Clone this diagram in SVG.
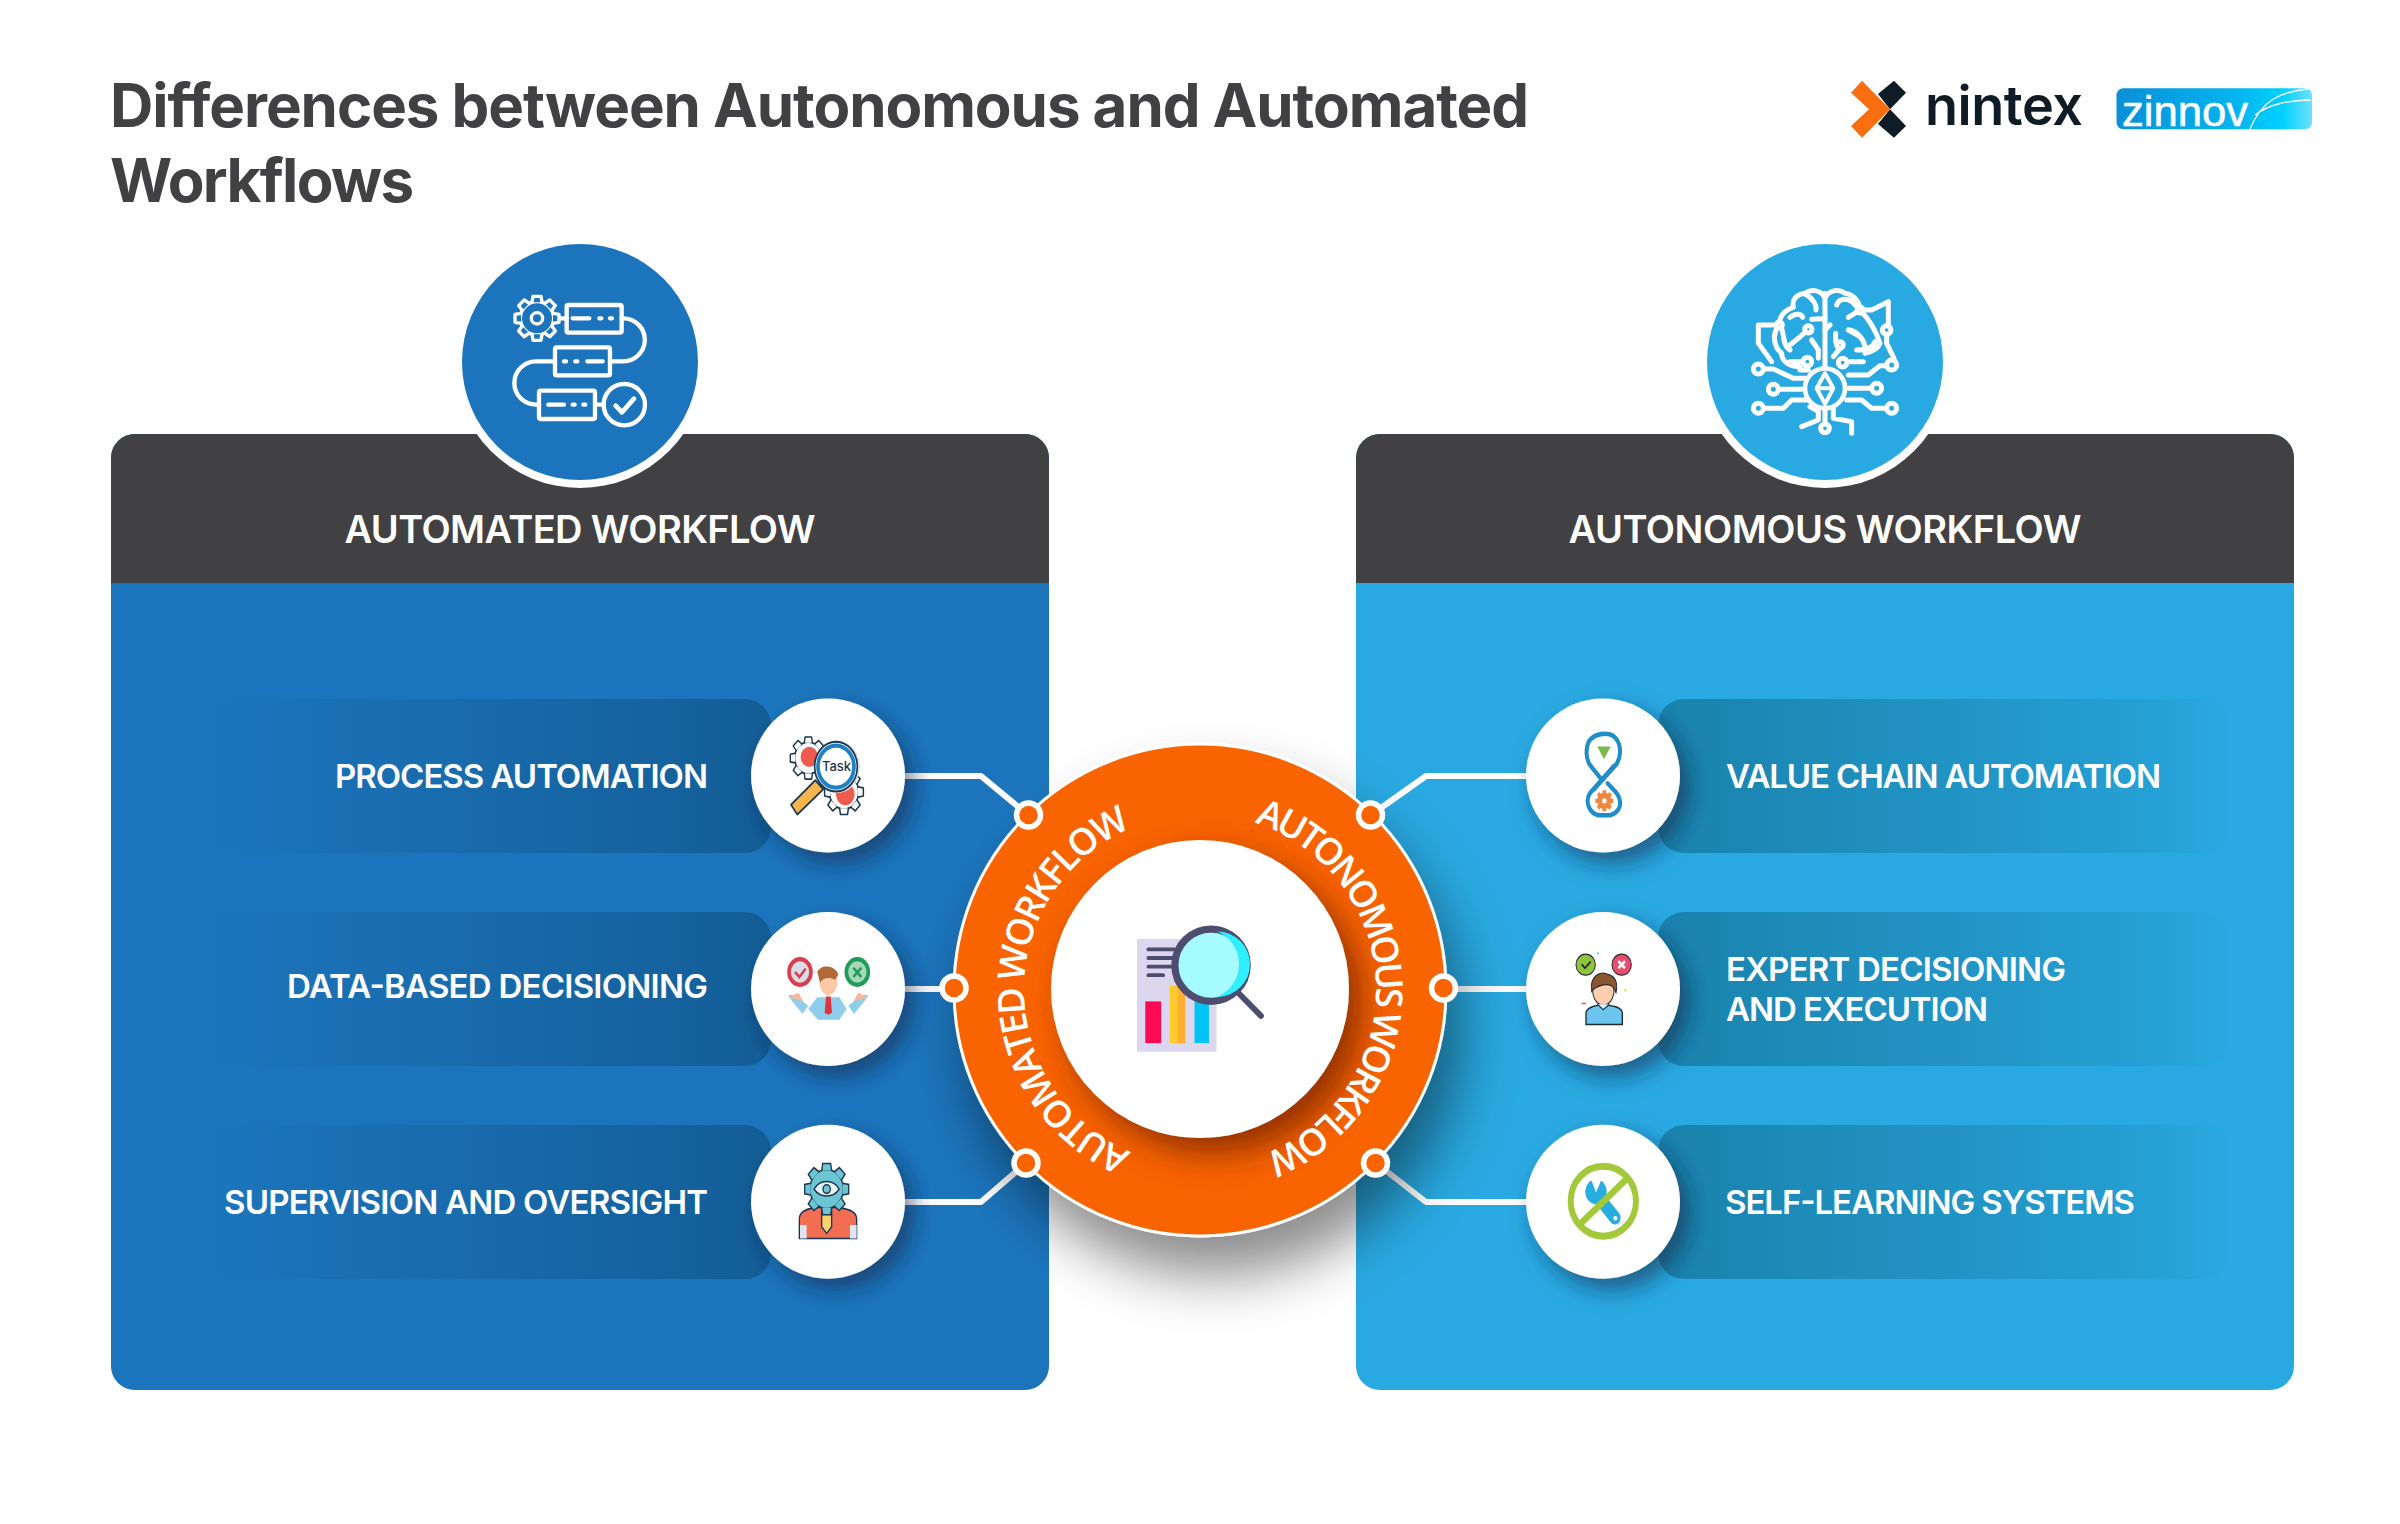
<svg xmlns="http://www.w3.org/2000/svg" width="2400" height="1524" viewBox="0 0 2400 1524">
<style>
text{font-family:"Inter","Liberation Sans",sans-serif;font-weight:600}
.hd{font-size:38px;fill:#fff;text-anchor:middle}
.it{font-size:33px;fill:#fff}
.ttl{font-size:60px;font-weight:700;fill:#414042}
.arc{font-family:"Open Sans","Liberation Sans",sans-serif;font-size:37px;font-weight:600;fill:#fff}
.ln{fill:none;stroke:#fff;stroke-width:6;stroke-linejoin:round}
.dot{fill:#f96400;stroke:#fff;stroke-width:5.5}
.ic{fill:none;stroke:#fff;stroke-linecap:round;stroke-linejoin:round}
.d{stroke:#1c3550;stroke-width:5;stroke-linejoin:round;stroke-linecap:round}
</style>
<defs>
<linearGradient id="barL" x1="0" x2="1" y1="0" y2="0"><stop offset="0" stop-color="#135d96" stop-opacity="0"/><stop offset=".14" stop-color="#135d96" stop-opacity=".12"/><stop offset=".5" stop-color="#135d96" stop-opacity=".45"/><stop offset="1" stop-color="#135d96"/></linearGradient>
<linearGradient id="barR" x1="0" x2="1" y1="0" y2="0"><stop offset="0" stop-color="#1a82ac"/><stop offset=".85" stop-color="#1a82ac" stop-opacity=".25"/><stop offset="1" stop-color="#1a82ac" stop-opacity="0"/></linearGradient>
<linearGradient id="zin" x1="0" x2="1" y1="0" y2="0"><stop offset="0" stop-color="#0a8fd8"/><stop offset=".6" stop-color="#04b4ee"/><stop offset=".85" stop-color="#00d0ff"/><stop offset="1" stop-color="#6fe0fb"/></linearGradient>
<filter id="sh" x="-40%" y="-40%" width="190%" height="190%"><feDropShadow dx="9" dy="11" stdDeviation="11" flood-color="#08233c" flood-opacity=".55"/></filter>
<filter id="shBig" x="-30%" y="-30%" width="170%" height="170%"><feDropShadow dx="14" dy="38" stdDeviation="28" flood-color="#000" flood-opacity=".45"/></filter>
<filter id="shIn" x="-30%" y="-30%" width="170%" height="170%"><feDropShadow dx="14" dy="16" stdDeviation="16" flood-color="#7a2600" flood-opacity=".8"/></filter>
<path id="arcL" d="M1131.2,1152 A176,176 0 0 1 1169.4,816.7"/>
<path id="arcR" d="M1254.4,822.6 A176,176 0 0 1 1215.3,1165.3"/>
<clipPath id="clipL"><rect x="111" y="434" width="938" height="956" rx="24"/></clipPath>
<clipPath id="clipR"><rect x="1356" y="434" width="938" height="956" rx="24"/></clipPath>
<path id="t" d="M-15,-48 L-12,-66 H12 L15,-48"/>
<g id="gear"><circle r="50"/><use href="#t"/><use href="#t" transform="rotate(45)"/><use href="#t" transform="rotate(90)"/><use href="#t" transform="rotate(135)"/><use href="#t" transform="rotate(180)"/><use href="#t" transform="rotate(225)"/><use href="#t" transform="rotate(270)"/><use href="#t" transform="rotate(315)"/></g>
</defs>
<rect width="2400" height="1524" fill="#fff"/>
<g id="title"><text class="ttl" x="110" y="127" textLength="1419">Differences between Autonomous and Automated</text><text class="ttl" x="110" y="202" textLength="304">Workflows</text></g>
<g id="logo-nintex">
<polygon points="1878,94 1894,80.700 1906,92.700 1890,109.300 1906,126 1894,137.700 1878,124 1890,109.300" fill="#0f1c26"/>
<polygon points="1851,92.700 1862,80.700 1890,109.300 1862,137.700 1851,126 1869,109.300" fill="#f96e10"/>
<text x="1925" y="125" font-size="54" textLength="158" style="fill:#0f1c26;font-weight:600">nintex</text>
</g>
<g id="logo-zinnov">
<rect x="2116.500" y="88.300" width="195.500" height="41" rx="7" fill="url(#zin)"/>
<text x="2122" y="126" font-size="43" textLength="126" lengthAdjust="spacingAndGlyphs" stroke="#fff" stroke-width=".6" style="font-family:'Liberation Sans',sans-serif;font-weight:400;fill:#fff">zinnov</text>
<path d="M2250,129 C2262,100 2280,92 2308,89 M2255,115 C2270,104 2285,101 2311,100" fill="none" stroke="#fff" stroke-width="1.300"/>
</g>
<g id="panel-automated">
<g clip-path="url(#clipL)"><rect x="111" y="434" width="938" height="956" fill="#1c75bc"/><rect x="111" y="434" width="938" height="149" fill="#414042"/></g>
<rect x="190" y="699" width="581" height="154" rx="26" fill="url(#barL)"/>
<rect x="190" y="912" width="581" height="154" rx="26" fill="url(#barL)"/>
<rect x="190" y="1125" width="581" height="154" rx="26" fill="url(#barL)"/>
<text class="hd" x="580" y="543" textLength="471">AUTOMATED WORKFLOW</text>
</g>
<g id="panel-autonomous">
<g clip-path="url(#clipR)"><rect x="1356" y="434" width="938" height="956" fill="#29a9e1"/><rect x="1356" y="434" width="938" height="149" fill="#414042"/></g>
<rect x="1658" y="699" width="572" height="154" rx="26" fill="url(#barR)"/>
<rect x="1658" y="912" width="572" height="154" rx="26" fill="url(#barR)"/>
<rect x="1658" y="1125" width="572" height="154" rx="26" fill="url(#barR)"/>
<text class="hd" x="1825" y="543" textLength="513">AUTONOMOUS WORKFLOW</text>
</g>
<g id="badge-automated">
<circle cx="580" cy="362" r="126" fill="#fff"/><circle cx="580" cy="362" r="118" fill="#1c75bc"/>
<g transform="translate(440,230) scale(.3333)" class="ic" stroke-width="13">
<rect x="380" y="225" width="165" height="83" rx="5"/><rect x="345" y="352" width="165" height="84" rx="5"/><rect x="297" y="482" width="168" height="85" rx="5"/>
<path d="M398,265 H448 M478,265 H484 M510,265 H516 M372,394 H378 M406,394 H412 M442,394 H488 M325,524 H372 M398,524 H404 M430,524 H436"/>
<path d="M545,265 H550 A64.500,64.500 0 0 1 550,394 H510 M345,394 H288 A65,65 0 0 0 288,524 H297 M360,265 H380 M465,524 H491"/>
<circle cx="553" cy="524" r="62"/><path d="M527,527 L546,547 L582,506" stroke-width="14"/>
<use href="#gear" transform="translate(291,265)" fill="#1c75bc" stroke-width="10"/>
<circle cx="291" cy="265" r="17" stroke-width="10"/>
</g>
</g>
<g id="badge-autonomous">
<circle cx="1825" cy="362" r="126" fill="#fff"/><circle cx="1825" cy="362" r="118" fill="#29a9e1"/>
<g transform="translate(1690,230) scale(.3333)" class="ic" stroke-width="15">
<path d="M405,190 V410 M405,205 C395,180 365,175 345,190 C320,193 305,208 310,232 C285,240 268,255 268,285 C245,310 250,350 275,370 C275,395 300,410 330,410 M405,205 C415,180 445,175 465,190 C490,193 510,215 510,240 C540,270 560,310 570,340 C565,355 550,365 525,370"/>
<path d="M345,192 C370,205 380,225 378,240 M300,262 C320,245 335,255 338,262 M365,268 C385,265 395,265 405,268 M355,298 L325,325 L300,345 M272,290 C285,310 275,345 300,360 M420,285 L405,300 M365,330 L385,360 V385 M300,395 H335 M330,420 H355"/>
<path d="M440,225 C450,200 480,205 495,225 M480,300 C500,305 520,325 525,350 M437,310 V335 M450,355 L430,380 M480,395 H520 M475,262 L510,240 H545 L595,215 V285 M590,312 V340 L612,385 M475,300 L510,320 M500,360 C530,360 550,350 555,335"/>
<path d="M268,285 H205 V340 L245,395"/>
<circle cx="405" cy="475" r="60" fill="#29a9e1" stroke-width="14"/>
<path d="M405,430 L430,475 L405,522 L380,475Z M385,475 H425" stroke-width="12"/>
<path d="M220,417 H250 L310,445 H345 M265,478 H335 M220,535 H280 L305,510 H350 M545,475 H475 M590,535 H545 L515,510 H470 M590,407 H570 L535,435 H475 M360,530 L385,545 V570 L335,590 M405,580 V535 M430,535 V565 L485,575 V610"/>
<g fill="#29a9e1"><circle cx="205" cy="417" r="15"/><circle cx="250" cy="478" r="15"/><circle cx="205" cy="535" r="15"/><circle cx="560" cy="475" r="15"/><circle cx="605" cy="535" r="15"/><circle cx="605" cy="405" r="15"/><circle cx="590" cy="300" r="13"/><circle cx="405" cy="595" r="13"/><circle cx="355" cy="298" r="11"/><circle cx="268" cy="285" r="9"/><circle cx="510" cy="240" r="9"/><circle cx="450" cy="345" r="10"/><circle cx="352" cy="395" r="13"/><circle cx="458" cy="398" r="13"/></g>
</g>
</g>
<g id="connectors">
<path class="ln" d="M905,776 H981 L1028,815"/><path class="ln" d="M905,989 H954"/><path class="ln" d="M905,1202 H981 L1026,1163"/>
<path class="ln" d="M1526,776 H1426 L1371,815"/><path class="ln" d="M1526,989 H1444"/><path class="ln" d="M1526,1202 H1426 L1376,1163"/>
</g>
<g id="hub">
<circle cx="1200" cy="990" r="246" fill="#f96400" stroke="#fff" stroke-width="3" filter="url(#shBig)"/>
<circle cx="1200" cy="989" r="149" fill="#fff" filter="url(#shIn)"/>
<text class="arc" letter-spacing="-2.500"><textPath href="#arcL">AUTOMATED WORKFLOW</textPath></text>
<text class="arc" letter-spacing="-3.600"><textPath href="#arcR">AUTONOMOUS WORKFLOW</textPath></text>
<g transform="translate(940,730) scale(.3444)">
<rect x="572" y="607" width="231" height="327" fill="#dcd6ef"/>
<path d="M605,637 H680 M605,662 H680 M605,687 H680 M605,712 H648" stroke="#4d4d6f" stroke-width="11" stroke-linecap="round"/>
<rect x="596" y="788" width="46" height="121" fill="#ff0a54"/>
<rect x="667" y="742" width="45" height="167" fill="#ffcb2e"/><rect x="690" y="742" width="22" height="167" fill="#ffb02e"/>
<rect x="739" y="790" width="42" height="119" fill="#00c4f5"/>
<path d="M868,765 L932,830" stroke="#4d4d6f" stroke-width="17" stroke-linecap="round"/>
<circle cx="787" cy="683" r="105" fill="#a5fbff" stroke="#4d4d6f" stroke-width="21"/>
<path d="M800,585 A95,95 0 0 1 800,775 A103,103 0 0 0 800,585Z" fill="#2eeeff" transform="translate(5,0)"/>
</g>
<circle class="dot" cx="1028.500" cy="815" r="12"/><circle class="dot" cx="954" cy="988" r="12"/><circle class="dot" cx="1026" cy="1163" r="12"/>
<circle class="dot" cx="1370.500" cy="815" r="12"/><circle class="dot" cx="1443.500" cy="988" r="12"/><circle class="dot" cx="1375.500" cy="1163" r="12"/>
</g>
<g id="item-process">
<circle cx="828" cy="775.500" r="77" fill="#fff" filter="url(#sh)"/>
<g transform="translate(740,690) scale(.3333,.389)">
<g class="d" fill="#fff"><use href="#gear" transform="translate(205,175) scale(.82)"/><circle cx="208" cy="172" r="26" fill="#ef5b4c" stroke="none"/>
<use href="#gear" transform="translate(312,262) scale(.88)"/><circle cx="316" cy="268" r="28" fill="#ef5b4c" stroke="none"/>
<path d="M226,232 L153,295 L172,320 L250,255 Z" fill="#f9b54c"/></g>
<circle cx="292" cy="197" r="68" fill="#dfe5ec"/><circle cx="288" cy="197" r="64" fill="#fff" stroke="#1c3550" stroke-width="5"/><circle cx="288" cy="197" r="54" fill="#fff" stroke="#1c82c4" stroke-width="11"/>
</g>
<text x="836.500" y="771" text-anchor="middle" font-size="13" style="font-weight:500;fill:#1c3550">Task</text>
<text class="it" x="708" y="788" text-anchor="end" textLength="373">PROCESS AUTOMATION</text>
</g>
<g id="item-data">
<circle cx="828" cy="989" r="77" fill="#fff" filter="url(#sh)"/>
<g transform="translate(740,690) scale(.3333,.389)">
<circle cx="180" cy="725" r="33" fill="#d9dde4" stroke="#dc3c50" stroke-width="11"/><path d="M165,725 L178,738 L197,716" fill="none" stroke="#dc3c50" stroke-width="7"/>
<circle cx="352" cy="725" r="33" fill="#a6d8b8" stroke="#1f9b5c" stroke-width="11"/><path d="M340,714 L364,738 M364,714 L340,738" stroke="#1f9b5c" stroke-width="7"/>
<path d="M205,820 L232,790 H298 L320,820 L298,848 H234Z" fill="#8ecdeb"/><path d="M145,785 C165,780 180,795 205,812 L188,832 C170,815 155,800 145,785Z M385,785 C365,780 350,795 325,812 L342,832 C360,815 375,800 385,785Z" fill="#8ecdeb"/>
<path d="M145,790 L175,778 L190,800 Z M385,790 L355,778 L340,800Z" fill="#f6b99b"/>
<ellipse cx="265" cy="752" rx="27" ry="32" fill="#fbc9a8"/><path d="M232,725 C240,705 285,705 295,732 L285,745 C270,738 250,738 240,752Z" fill="#b06a35"/>
<path d="M258,788 H272 L276,830 L265,835 L254,830Z" fill="#e2303f"/>
</g>
<text class="it" x="708" y="998" text-anchor="end" textLength="421">DATA-BASED DECISIONING</text>
</g>
<g id="item-supervision">
<circle cx="828" cy="1201.700" r="77" fill="#fff" filter="url(#sh)"/>
<g transform="translate(740,690) scale(.3333,.389)">
<path d="M178,1410 V1360 C178,1340 200,1335 225,1330 H298 C325,1335 350,1340 350,1360 V1410Z" fill="#f26d52" stroke="#1c3550" stroke-width="4"/>
<path d="M180,1410 V1375 H200 V1410Z M330,1410 V1375 H350 V1410Z" fill="#dfe6ef"/>
<path d="M245,1340 H275 L275,1380 L260,1397 L245,1380Z" fill="#f9d36b" stroke="#1c3550" stroke-width="4"/>
<use href="#gear" transform="translate(260,1283)" fill="#6cc5d3" stroke="#1c3550" stroke-width="4"/>
<path d="M-38,0 C-20,-26 20,-26 38,0 C20,24 -20,24 -38,0Z" transform="translate(260,1283)" fill="#e8f3f5" stroke="#1c3550" stroke-width="4"/><circle cx="260" cy="1283" r="11" fill="#6cc5d3" stroke="#1c3550" stroke-width="4"/>
</g>
<text class="it" x="708" y="1214" text-anchor="end" textLength="484">SUPERVISION AND OVERSIGHT</text>
</g>
<g id="item-value">
<circle cx="1603" cy="775.500" r="77" fill="#fff" filter="url(#sh)"/>
<g transform="translate(1520,690) scale(.3333,.389)" fill="none">
<path d="M222,255 L290,190 C305,170 305,135 280,118 C260,108 225,112 208,130 C195,150 198,180 212,195 L240,225 M263,240 L290,265 C310,290 300,315 270,322 H235 C205,315 195,285 210,265 L282,195" stroke="#1f8ec8" stroke-width="12" stroke-linecap="round"/>
<polygon points="232,145 272,145 252,178" fill="#79b94a"/>
<circle cx="253" cy="285" r="21" fill="#f0873f"/><path d="M253,258 V312 M226,285 H280 M234,266 L272,304 M272,266 L234,304" stroke="#f0873f" stroke-width="11"/><circle cx="253" cy="285" r="7" fill="#fff"/>
</g>
<text class="it" x="1726" y="788" textLength="435">VALUE CHAIN AUTOMATION</text>
</g>
<g id="item-expert">
<circle cx="1603" cy="989" r="77" fill="#fff" filter="url(#sh)"/>
<g transform="translate(1520,690) scale(.3333,.389)">
<ellipse cx="197" cy="706" rx="29" ry="27" fill="#8cc63f" stroke="#2b2b2b" stroke-width="3"/><path d="M185,705 L195,715 L212,698" fill="none" stroke="#2b2b2b" stroke-width="5"/>
<ellipse cx="305" cy="706" rx="29" ry="27" fill="#ec4a70" stroke="#2b2b2b" stroke-width="3"/><path d="M295,697 L315,715 M315,697 L295,715" stroke="#fff" stroke-width="7"/>
<path d="M198,860 V830 C200,815 225,812 250,808 C280,812 305,815 307,830 V860Z" fill="#6cc5ee" stroke="#1f2a33" stroke-width="4"/>
<ellipse cx="250" cy="772" rx="32" ry="38" fill="#fbcfae" stroke="#1f2a33" stroke-width="3"/>
<path d="M215,775 C208,735 240,722 262,730 C285,735 295,750 288,778 C280,760 270,755 250,758 C235,762 225,762 215,775Z" fill="#8a5530" stroke="#1f2a33" stroke-width="3"/>
<path d="M232,808 L250,822 L268,808" fill="#dff2fb" stroke="#1f2a33" stroke-width="3"/>
<path d="M185,806 H198" stroke="#ee4d8d" stroke-width="4"/><circle cx="316" cy="772" r="3" fill="#f8c93e"/><circle cx="234" cy="677" r="3" fill="#5cc6e6"/>
</g>
<text class="it" x="1726" y="981" textLength="340">EXPERT DECISIONING</text>
<text class="it" x="1726" y="1021" textLength="262">AND EXECUTION</text>
</g>
<g id="item-self">
<circle cx="1603" cy="1201.700" r="77" fill="#fff" filter="url(#sh)"/>
<g transform="translate(1520,690) scale(.3333,.389)">
<path d="M232,1300 L285,1357" stroke="#27aee0" stroke-width="34" stroke-linecap="round"/>
<circle cx="228" cy="1290" r="32" fill="#27aee0"/>
<polygon points="228,1292 212,1255 248,1252" fill="#fff"/>
<circle cx="286" cy="1358" r="6" fill="#fff"/>
<ellipse cx="250" cy="1314" rx="98" ry="90" fill="none" stroke="#a3c93a" stroke-width="18"/>
<path d="M172,1380 L328,1250" stroke="#a3c93a" stroke-width="18"/>
</g>
<text class="it" x="1725" y="1214" textLength="410">SELF-LEARNING SYSTEMS</text>
</g>
</svg>
